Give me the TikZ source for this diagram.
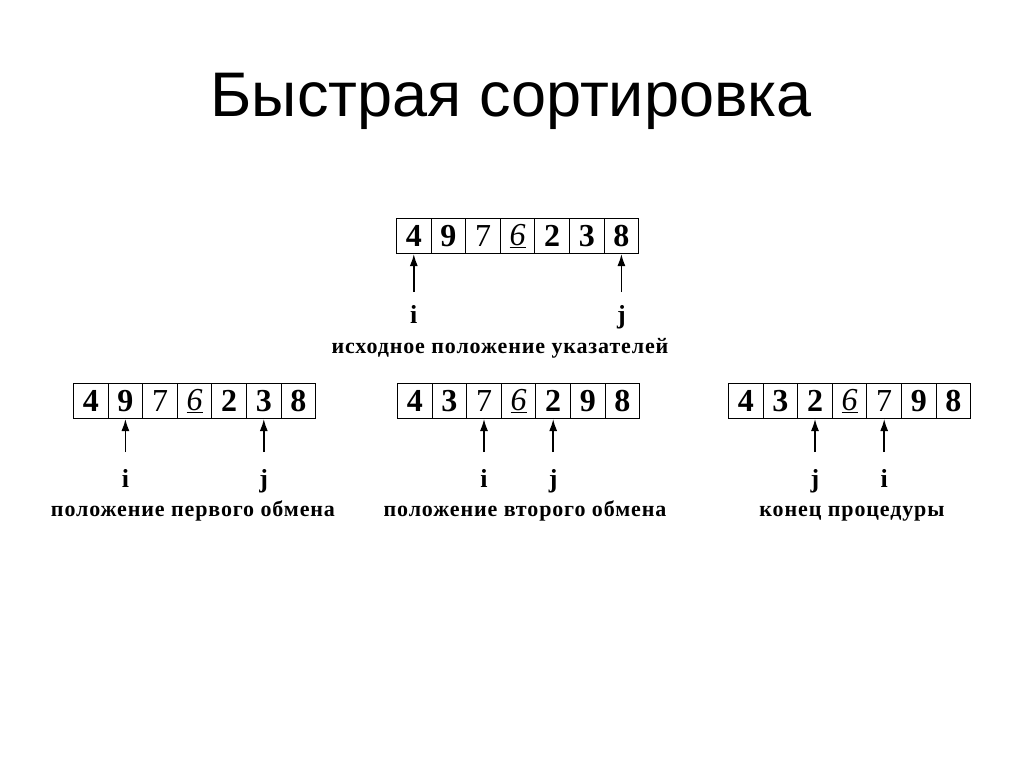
\documentclass[tikz,border=0pt]{standalone}
\usepackage{fontspec}
\setmainfont{Liberation Serif}
\newfontfamily\titlefont{Liberation Sans}
\newfontfamily\capfont[LetterSpace=4]{Liberation Serif}
\usetikzlibrary{arrows.meta}
\newcommand\sixu{\mdseries\itshape\underline{6}}
\newcommand\sevn{\mdseries 7}
\newcommand\drawarr[4]{%
  \foreach \v [count=\k] in {#4}
    \node[cell] (#1-\k) at ({#2+(\k-1)*34.6},#3) {\v};}
\begin{document}
\begin{tikzpicture}[x=1pt,y=-1pt,
  cell/.style={draw, line width=1pt, minimum width=34.6pt, minimum height=35pt,
    inner sep=0pt, anchor=north west, font=\fontsize{32}{32}\selectfont\bfseries},
  ptr/.style={-{Latex[length=12pt,width=8pt]}, line width=1.5pt},
  lbl/.style={font=\fontsize{26}{26}\selectfont\bfseries, inner sep=0pt, anchor=base},
  capt/.style={font=\fontsize{22}{22}\selectfont\capfont\bfseries, inner sep=0pt, anchor=base}]
\path[use as bounding box] (0,0) rectangle (1024,767);
\node[font=\fontsize{63}{63}\selectfont\titlefont, anchor=base] (title) at (511,117) {Быстрая сортировка};
% top array
\drawarr{A}{396}{218}{4,9,\sevn,\sixu,2,3,8}
\coordinate (Ai) at (A-1.south |- 0,292);
\coordinate (Aj) at (A-7.south |- 0,292);
\draw[ptr] (Ai) -- (A-1.south);
\draw[ptr] (Aj) -- (A-7.south);
\node[lbl] (Ali) at (A-1.south |- 0,323) {i};
\node[lbl] (Alj) at (A-7.south |- 0,323) {j};
\node[capt] (Acap) at (500,353) {исходное положение указателей};
% array B
\drawarr{B}{73}{383}{4,9,\sevn,\sixu,2,3,8}
\coordinate (Bi) at (B-2.south |- 0,452);
\coordinate (Bj) at (B-6.south |- 0,452);
\draw[ptr] (Bi) -- (B-2.south);
\draw[ptr] (Bj) -- (B-6.south);
\node[lbl] (Bli) at (B-2.south |- 0,487) {i};
\node[lbl] (Blj) at (B-6.south |- 0,487) {j};
\node[capt] (Bcap) at (193,516) {положение первого обмена};
% array C
\drawarr{C}{397}{383}{4,3,\sevn,\sixu,2,9,8}
\coordinate (Ci) at (C-3.south |- 0,452);
\coordinate (Cj) at (C-5.south |- 0,452);
\draw[ptr] (Ci) -- (C-3.south);
\draw[ptr] (Cj) -- (C-5.south);
\node[lbl] (Cli) at (C-3.south |- 0,487) {i};
\node[lbl] (Clj) at (C-5.south |- 0,487) {j};
\node[capt] (Ccap) at (525,516) {положение второго обмена};
% array D
\drawarr{D}{728}{383}{4,3,2,\sixu,\sevn,9,8}
\coordinate (Dj) at (D-3.south |- 0,452);
\coordinate (Di) at (D-5.south |- 0,452);
\draw[ptr] (Dj) -- (D-3.south);
\draw[ptr] (Di) -- (D-5.south);
\node[lbl] (Dlj) at (D-3.south |- 0,487) {j};
\node[lbl] (Dli) at (D-5.south |- 0,487) {i};
\node[capt] (Dcap) at (852,516) {конец процедуры};
\end{tikzpicture}
\end{document}
